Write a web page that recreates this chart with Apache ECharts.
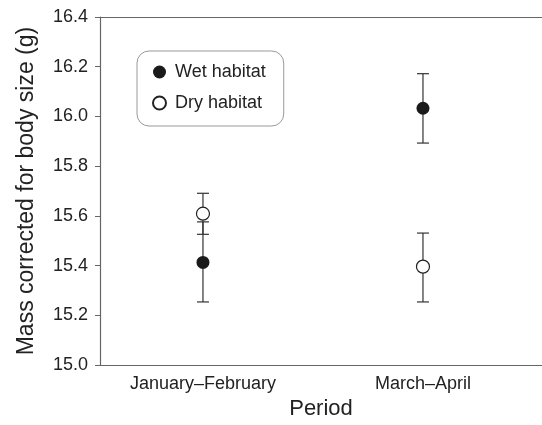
<!DOCTYPE html>
<html>
<head>
<meta charset="utf-8">
<script src="https://cdn.jsdelivr.net/npm/echarts@6/dist/echarts.min.js"></script>
<style>
  html, body { margin: 0; padding: 0; background: #fff; }
  #chart { width: 542px; height: 425px; }
</style>
</head>
<body>
<div id="chart"></div>
<script>
// periods on the x axis
var periods = ['January\u2013February', 'March\u2013April'];

// wet habitat: mean and error bar ends
var wetMean = [15.413, 16.033];
var wetLow = [15.254, 15.893];
var wetHigh = [15.576, 16.172];

// dry habitat
var dryMean = [15.609, 15.396];
var dryLow = [15.526, 15.254];
var dryHigh = [15.691, 15.531];

var yTicks = [15.0, 15.2, 15.4, 15.6, 15.8, 16.0, 16.2, 16.4];

var axisColor = '#666';
var textColor = '#222';
var fontFam = '"Liberation Sans", Arial, Helvetica, sans-serif';

function points(means) {
    return means.map(function (v, i) { return [i, v]; });
}

function bars(low, high) {
    return low.map(function (v, i) { return [i, v, high[i]]; });
}

function renderErrorBar(params, api) {
    var x = api.value(0);
    var lo = api.coord([x, api.value(1)]);
    var hi = api.coord([x, api.value(2)]);
    var half = 6;
    var style = { stroke: '#333', lineWidth: 1.2 };
    return {
        type: 'group',
        children: [
            { type: 'line', shape: { x1: lo[0], y1: lo[1], x2: hi[0], y2: hi[1] }, style: style },
            { type: 'line', shape: { x1: lo[0] - half, y1: lo[1], x2: lo[0] + half, y2: lo[1] }, style: style },
            { type: 'line', shape: { x1: hi[0] - half, y1: hi[1], x2: hi[0] + half, y2: hi[1] }, style: style }
        ]
    };
}

var chart = echarts.init(document.getElementById('chart'));

var option = {
    animation: false,
    backgroundColor: '#fff',
    textStyle: { fontFamily: fontFam },
    grid: { left: 100, right: 0, top: 17, bottom: 53, containLabel: false },
    legend: {
        orient: 'vertical',
        left: 137,
        top: 51,
        padding: [12, 18, 14, 15],
        itemGap: 13,
        itemWidth: 13,
        itemHeight: 13,
        borderColor: '#999',
        borderWidth: 1,
        borderRadius: 12,
        textStyle: { fontSize: 18, color: textColor, fontFamily: fontFam, padding: [0, 0, 0, 4] },
        data: [
            { name: 'Wet habitat', icon: 'circle' },
            { name: 'Dry habitat', icon: 'circle' }
        ]
    },
    xAxis: [{
        type: 'value',
        min: -0.468,
        max: 1.541,
        name: 'Period',
        nameLocation: 'middle',
        nameGap: 29,
        nameTextStyle: { fontSize: 22, color: textColor, fontFamily: fontFam },
        axisLine: { onZero: false, lineStyle: { color: axisColor, width: 1.2 } },
        axisTick: { show: false },
        splitLine: { show: false },
        axisLabel: {
            customValues: [0, 1],
            margin: 10,
            fontSize: 18,
            color: textColor,
            formatter: function (v) { return periods[Math.round(v)]; }
        }
    }, {
        type: 'value',
        position: 'top',
        min: -0.468,
        max: 1.541,
        axisLine: { show: true, onZero: false, lineStyle: { color: axisColor, width: 1.2 } },
        axisTick: { show: false },
        axisLabel: { show: false },
        splitLine: { show: false }
    }],
    yAxis: {
        type: 'value',
        position: 'left',
        min: 15.0,
        max: 16.4,
        interval: 0.2,
        name: 'Mass corrected for body size (g)',
        nameLocation: 'middle',
        nameGap: 62,
        nameTextStyle: { fontSize: 23, color: textColor, fontFamily: fontFam },
        axisLine: { show: true, onZero: false, lineStyle: { color: axisColor, width: 1.2 } },
        axisTick: { show: true, length: 5, lineStyle: { color: axisColor } },
        splitLine: { show: false },
        axisLabel: {
            customValues: yTicks,
            margin: 12,
            fontSize: 18,
            color: textColor,
            formatter: function (v) { return v.toFixed(1); }
        }
    },
    series: [
        {
            type: 'custom',
            name: 'wetErr',
            renderItem: renderErrorBar,
            data: bars(wetLow, wetHigh),
            z: 1,
            silent: true
        },
        {
            type: 'custom',
            name: 'dryErr',
            renderItem: renderErrorBar,
            data: bars(dryLow, dryHigh),
            z: 1,
            silent: true
        },
        {
            type: 'scatter',
            name: 'Wet habitat',
            data: points(wetMean),
            symbol: 'circle',
            symbolSize: 13,
            z: 3,
            itemStyle: { color: '#1a1a1a', opacity: 1 }
        },
        {
            type: 'scatter',
            name: 'Dry habitat',
            data: points(dryMean),
            symbol: 'circle',
            symbolSize: 13,
            z: 3,
            itemStyle: { color: '#fff', borderColor: '#222', borderWidth: 1.2, opacity: 1 }
        }
    ]
};

chart.setOption(option);
</script>
</body>
</html>
